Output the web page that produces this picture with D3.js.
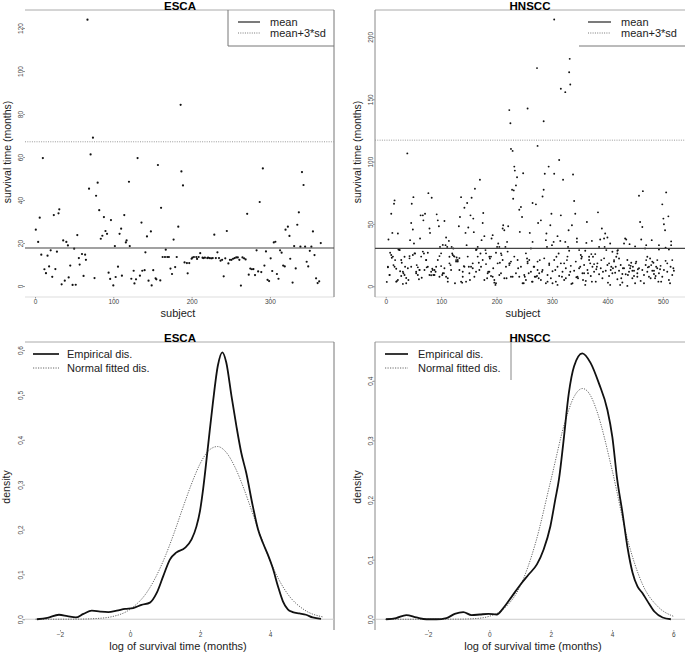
<!DOCTYPE html>
<html>
<head>
<meta charset="utf-8">
<script src="https://cdn.jsdelivr.net/npm/d3@7"></script>
<style>
body { margin: 0; background: #fff; }
svg { font-family: "Liberation Sans", Arial, sans-serif; }
.tick text { font-size: 6.5px; fill: #444; }
.tick line { stroke: #999; }
</style>
</head>
<body>
<script>
// ESCA scatter: [subject, survival months]
const escaPoints = [[1,26.2],[4,20.5],[6,31.8],[8,14.6],[10,59.5],[12,7.8],[14,6],[16,14.1],[18,9.1],[20,16.6],[22,4.3],[24,33],[26,7.9],[28,16],[30,33.8],[31,35.7],[34,0.8],[36,21.2],[38,2.5],[40,20.5],[42,18.9],[43,4],[45,9.5],[48,0.5],[50,17.4],[52,0.6],[54,23.7],[56,13],[57,10],[60,14.9],[62,4.7],[64,14.6],[65,12.2],[67,123.9],[69,45.3],[71,61.2],[74,69],[76,3.7],[78,42],[80,48.1],[82,35.3],[84,22],[86,23.4],[88,32.1],[90,25.6],[92,24.3],[94,6.2],[96,3.3],[97,30.7],[100,0.3],[102,18.6],[103,4.2],[106,9],[108,24.3],[110,26.7],[111,4.8],[114,33],[116,20.3],[117,21.2],[120,48.5],[121,18.6],[123,3.4],[126,7.1],[127,1.2],[129,3.1],[131,59.5],[134,4.8],[136,29.5],[137,7.1],[140,7.4],[141,15.7],[143,23.1],[145,2.5],[148,25.4],[149,0.3],[151,7.4],[154,3.6],[155,3.1],[157,56.3],[160,2.6],[161,36.4],[163,13.5],[166,13.5],[167,16.9],[169,13.5],[171,13.5],[173,8.1],[175,5.6],[177,21.6],[179,8.8],[181,13.5],[183,27.6],[186,84.3],[187,53.3],[189,46.8],[191,11],[194,10.7],[195,5.9],[197,10.7],[200,12.7],
  [201,13.2],[203,13.5],[206,13.5],[207,12.6],[209,13.5],[211,15.3],[214,13.2],[215,13],[217,13.2],[220,13],[221,13.2],[223,13],[225,12.9],[227,13],[229,23.9],[231,13],[233,15.7],[235,13],[237,11.8],[239,12.2],[241,4.5],[243,12.9],[245,25.6],[247,10.5],[249,12.2],[251,12.2],[253,12.7],[255,13],[257,13.3],[259,13.3],[261,12.2],[263,0.2],[265,13.3],[267,12.9],[269,12.4],[271,33.6],[273,5.3],[275,8.1],[277,7.8],[279,7.9],[281,5.1],[283,16.6],[285,6.8],[287,39.1],[289,6.5],[291,54.7],[293,9.5],[295,16.1],[297,2.9],[299,2.3],[301,12.9],[303,7],[305,20.3],[307,20.6],[309,5.6],[311,3.4],[313,16.6],[315,15.5],[317,9.5],[319,9.1],[320,26.2],[323,27.6],[325,23.3],[326,12.7],[329,1.6],[331,18.6],[333,8.2],[335,28.5],[337,34.3],[339,18.3],[341,53],[343,47],[345,18.3],[347,11.3],[349,9.1],[351,16.4],[353,18.3],[355,25.4],[357,14.4],[359,3.6],[361,1.4],[363,2.2],[365,20]];
const escaMean = 17.7, escaCut = 67.1;

// HNSCC scatter: [subject, survival months]
const hnsccPoints = [[2,3.5],[4,15.2],[5,37.5],[7,9],[8,26.9],[10,58.2],[11,22.9],[12,42.8],[14,17],[15,66.2],[16,68.9],[17,21],[19,14.1],[20,4],[22,42.3],[23,29.5],[25,29],[26,12],[28,8.2],[29,18.9],[31,1.9],[32,10.4],[34,23.7],[35,15.7],[37,6.6],[39,106.6],[41,5],[43,24.2],[44,37],[46,50.8],[47,66.2],[49,45.5],[50,71.5],[51,34.3],[53,26.3],[55,11.7],[56,17],[58,15.2],[60,5.6],[61,13],[62,38.3],[63,56.9],[65,6.9],[67,56.9],[68,52.9],[69,26.3],[71,58.2],[73,21],[74,15.2],[76,26.9],[77,74.7],[79,46.3],[80,42.8],[82,8.8],[83,71],[84,14.1],[86,9],[88,13],[90,11.7],[92,57.7],[94,52.9],[96,48.1],[97,24.2],[98,31.6],[100,16.2],[102,9],[103,33.2],[105,10.4],[106,52.4],[108,33],[109,39.1],[111,31.6],[112,6.4],[114,36.4],[115,23.7],[117,17],[119,31.6],[120,26.3],[122,30.3],[123,24.2],[125,2.4],[127,21],[128,23.1],[130,19.9],[132,48.1],[133,22.6],[134,55.6],[136,71.5],[138,2.9],[139,11.7],[141,16.2],[142,63],[144,42.8],[146,33],[147,66.8],[149,47.1],[150,15.7],[152,5],[153,56.9],[155,71],[157,14.4],[158,54.3],[159,43.4],[161,78.2],[163,11.7],[164,29.5],[166,31.6],[168,18.9],[170,85.4],[171,26.3],[173,37],[175,50.8],[176,58.8],[178,40.2],[180,29],[181,17.8],[183,6.4],[185,11.7],[187,23.7],[188,22.3],[190,8.2],[191,38.3],[193,41],[194,14.4],[196,2.9],[198,1.1],[199,26.9],[201,31.6],[203,34.3],[205,31.6],[206,18.9],[208,10.4],[209,25],[211,46.3],[212,48.9],[214,44.9],[216,31.6],[218,6.4],[219,35.6],[221,48.1],[223,17],[224,18.4],[226,7.7],[228,77.4],[230,70.2],[231,76.9],[232,96],[233,92.8],[235,80.9],[237,87.5],[239,14.4],[241,61.4],[242,43.6],[244,63.6],[246,55.6],[248,90.7],[249,2.4],[251,7.7],[253,5],[255,22.3],[256,19.7],[258,10.4],[260,42.8],[262,30.3],[264,3.7],[265,66.8],[267,15.7],[269,7.7],[271,65.7],[273,8.2],[274,13],[276,6.4],[278,21],[280,52.9],[282,11.7],[283,72],[285,77.4],[287,90.2],[289,37],[291,31.6],[292,3.7],[294,96],[295,18.4],[297,48.9],[299,58.2],[301,2.4],[303,35.6],[304,90.2],[306,13],[308,23.7],[310,1.1],[312,26.3],[313,101.3],[315,36.4],[316,56.9],[318,7.7],[320,85.4],[322,18.4],[324,35.6],[325,6.4],[327,21],[329,31.6],[331,28.5],[333,11.7],[335,1.9],[336,48.9],[338,89.6],[340,68.4],[342,58.2],[344,7.2],[345,35.6],[347,6.4],[349,29],[351,15.7],[353,22.3],[354,23.7],[356,5],[358,10.4],[360,1.1],[362,34.8],[363,51.6],[365,10.4],[367,23.7],[369,18.4],[371,25.8],[372,3.7],[374,23.7],[376,17.8],[378,25.8],[380,13.6],[381,15.7],[383,59.3],[385,31.6],[387,37.5],[389,21],[390,46.3],[392,11.7],[394,38.3],[396,42.3],[398,29],[400,39.1],[401,2.9],[403,18.4],[405,1.1],[407,15.7],[409,27.7],[410,14.4],[412,21],[414,10.9],[416,23.7],[418,26.3],[419,29],[421,22.3],[423,1.1],[425,6.4],[427,9.8],[428,14.4],[430,34.3],[432,38.3],[434,37.5],[436,0.3],[437,9],[439,17],[441,14.4],[443,18.9],[445,12.5],[446,15.7],[448,8.2],[450,2.4],[452,19.7],[454,7.7],[455,13.6],[457,72.6],[459,51.6],[461,37.5],[463,47.6],[464,76.3],[466,2.4],[468,30.3],[470,21],[472,23.7],[473,15.2],[475,7.7],[477,22.3],[479,17],[481,12.5],[483,18.9],[484,9.8],[486,6.4],[488,15.7],[490,21],[492,3.7],[493,33],[495,13.6],[497,3.7],[499,65.7],[501,54.3],[502,49.7],[504,44.9],[506,75.3],[508,18.4],[510,56.1],[511,29.5],[513,2.4],[515,33],[517,21],[519,14.4],
  [304,214],[332,182.4],[331,171.7],[333,161.9],[316,158.4],[324,155.7],[273,175],[256,142.6],[223,141.3],[225,130.8],[285,132.4],[274,112.6],[226,110.2],[229,108.6],
  [4,15.7],[7,9],[10,25.1],[13,23.8],[16,15.7],[19,3.7],[22,5],[25,29.1],[28,21.1],[31,11.7],[34,9],[37,2.4],[40,14.4],[43,22.4],[46,15.7],[49,25.1],[52,26.4],[55,10.4],[58,9],[61,13.1],[64,23.8],[67,27.8],[70,13.1],[73,21.1],[76,15.7],[79,9],[82,11.7],[85,13.1],[88,9],[91,15.7],[94,21.1],[97,7.7],[100,26.4],[103,10.4],[106,14.4],[109,7.7],[112,3.7],[115,18.4],[118,13.1],[121,25.1],[124,23.8],[127,19.8],[130,21.1],[133,13.1],[136,3.7],[139,7.7],[142,15.7],[145,3.7],[148,23.8],[151,10.4],[154,15.7],[157,18.4],[160,7.7],[163,29.1],[166,23.8],[169,13.1],[172,15.7],[175,21.1],[178,5],[181,26.4],[184,10.4],[187,11.7],[190,23.8],[193,7.7],[196,5],[199,2.4],[202,18.4],[205,9],[208,26.4],[211,21.1],[214,6.4],[217,15.7],[220,27.8],[223,18.4],[226,19.8],[229,7.7],[232,23.8],[235,10.4],[238,21.1],[241,7.7],[244,15.7],[247,2.4],[250,9],[253,26.4],[256,18.4],[259,21.1],
  [262,11.7],[265,3.7],[268,15.7],[271,7.7],[274,19.8],[277,10.4],[280,5],[283,13.1],[286,22.4],[289,2.4],[292,9],[295,17.1],[298,6.4],[301,12.1],[304,21.1],[307,3.7],[310,15.7],[313,8.2],[316,18.4],[319,11.7],[322,5],[325,14.4],[328,23.8],[331,9],[334,16.4],[337,2.4],[340,12.5],[343,19.8],[346,7.7],[349,14.4],[352,25.1],[355,10.4],[358,17.1],[361,4.3],[364,13.1],[367,21.1],[370,8.2],[373,15.7],[376,11.7],[379,3.7],[382,18.4],[385,9.6],[388,14.4],[391,6.4],[394,22.4],[397,12.5],[400,17.1],[403,8.2],[406,13.1],[409,10.4],[412,19.8],[415,15.7],[418,5.6],[421,12.5],[424,17.1],[427,3],[430,14.4],[433,9.6],[436,21.1],[439,11.7],[442,16.4],[445,6.4],[448,12.5],[451,18.4],[454,10.4],[457,14.4],[460,4.3],[463,13.1],[466,9],[469,17.1],[472,11.7],[475,15.7],[478,6.4],[481,19.8],[484,12.5],[487,8.2],[490,14.4],[493,10.4],[496,16.4],[499,7.7],[502,13.1],[505,20.4],[508,11.7],[511,5],[514,15.7],[517,9],[520,12.5],
  [265,35.6],[275,50.8],[290,42.3],[300,33],[310,40.2],[330,44.9],[345,38.3],[360,28.5],[372,36.4],[395,31.6],[405,34.3],[418,28.5],[440,33.8],[450,32],[470,33],[480,37],[493,29.5],[505,31],[515,36]];
const hnsccMean = 30.4, hnsccCut = 117.2;

// density curves, log of survival time
const escaEmpX = [-2.66,-2.36,-2.03,-1.79,-1.55,-1.33,-1.09,-0.85,-0.62,-0.38,-0.14,0.09,0.33,0.57,0.76,0.95,1.14,1.33,1.57,1.76,1.9,2.0,2.09,2.23,2.37,2.51,2.64,2.75,2.9,3.04,3.18,3.32,3.51,3.66,3.8,3.94,4.08,4.23,4.37,4.51,4.65,4.84,5.03,5.22,5.46];
const escaEmpY = [0,0.003,0.01,0.007,0.004,0.012,0.019,0.017,0.016,0.019,0.023,0.025,0.032,0.037,0.058,0.096,0.133,0.149,0.159,0.178,0.207,0.241,0.29,0.386,0.483,0.565,0.595,0.573,0.498,0.431,0.371,0.327,0.252,0.2,0.17,0.144,0.114,0.073,0.04,0.022,0.016,0.013,0.01,0.004,0.001];
const escaNormX = [-2.7,-1.5,-1.0,-0.5,0,0.5,0.75,1.0,1.25,1.5,1.75,2.0,2.25,2.5,2.75,3.0,3.25,3.5,3.75,4.0,4.25,4.5,5.0,5.5];
const escaNormY = [0,0.0002,0.0014,0.006,0.022,0.062,0.096,0.139,0.19,0.246,0.3,0.346,0.376,0.385,0.372,0.339,0.292,0.237,0.182,0.131,0.089,0.057,0.02,0.0054];

const hnsccEmpX = [-3.37,-3.04,-2.71,-2.38,-2.05,-1.73,-1.4,-1.13,-0.85,-0.58,-0.31,-0.03,0.24,0.46,0.73,1.01,1.28,1.55,1.77,1.99,2.15,2.27,2.41,2.59,2.76,3.03,3.3,3.57,3.85,4.01,4.17,4.34,4.5,4.67,4.83,4.99,5.16,5.38,5.65,5.92];
const hnsccEmpY = [0,0.002,0.007,0.003,0,0,0.002,0.009,0.012,0.007,0.008,0.009,0.008,0.019,0.038,0.058,0.075,0.092,0.117,0.156,0.201,0.235,0.295,0.379,0.424,0.446,0.43,0.396,0.351,0.306,0.234,0.179,0.122,0.078,0.055,0.044,0.03,0.013,0.003,0];
const hnsccNormX = [-3.4,-1.0,-0.5,0,0.5,1.0,1.5,2.0,2.5,2.75,3.04,3.3,3.5,4.0,4.5,5.0,5.5,6.0];
const hnsccNormY = [0,0.0002,0.001,0.005,0.019,0.055,0.127,0.232,0.337,0.372,0.387,0.375,0.35,0.251,0.135,0.058,0.021,0.005];

const scatterLegend = ["mean", "mean+3*sd"];
const densityLegend = ["Empirical dis.", "Normal fitted dis."];

let svg = d3.select("body").append("svg")
    .attr("width", 685)
    .attr("height", 654);

let hline = (x1, x2, y, col, w, dash) => svg.append("line")
    .attr("x1", x1).attr("x2", x2).attr("y1", y).attr("y2", y)
    .attr("stroke", col).attr("stroke-width", w || 1)
    .attr("stroke-dasharray", dash || null);
let vline = (x, y1, y2, col, w) => svg.append("line")
    .attr("x1", x).attr("x2", x).attr("y1", y1).attr("y2", y2)
    .attr("stroke", col).attr("stroke-width", w || 1);

let drawAxes = (box, x, y, xt, yt, yfmt, title, xlab, ylab) => {
    let xa = svg.append("g")
        .attr("transform", "translate(0," + box.b + ")")
        .call(d3.axisBottom(x).tickValues(xt).tickSize(1.5).tickPadding(0.5));
    xa.select(".domain").remove();

    let ya = svg.append("g")
        .attr("transform", "translate(" + box.l + ",0)")
        .call(d3.axisLeft(y).tickValues(yt).tickSize(2).tickFormat(yfmt));
    ya.select(".domain").remove();
    ya.selectAll("text")
        .attr("transform", "rotate(-90)")
        .attr("x", 0).attr("y", -2.5).attr("dy", 0)
        .style("text-anchor", "middle");

    svg.append("text")
        .attr("x", box.tx).attr("y", box.t - 0.3)
        .attr("text-anchor", "middle")
        .style("font-size", "11.5px").style("font-weight", "bold")
        .text(title);
    svg.append("text")
        .attr("x", box.xlx).attr("y", box.xly)
        .attr("text-anchor", "middle")
        .style("font-size", "11px").style("fill", "#222")
        .text(xlab);
    svg.append("text")
        .attr("transform", "translate(" + box.ylx + "," + box.yly + ") rotate(-90)")
        .attr("text-anchor", "middle")
        .style("font-size", "10.5px").style("fill", "#222")
        .text(ylab);
};

let drawLegend = (x0, ys, labels, styles) => {
    labels.map((lab, i) => {
        hline(x0, x0 + styles[i].len, ys[i], styles[i].col, styles[i].w, styles[i].dash);
        svg.append("text")
            .attr("x", x0 + styles[i].len + styles[i].gap)
            .attr("y", ys[i] + 4)
            .style("font-size", "11px").style("fill", "#222")
            .text(lab);
    });
};

// ---------- top left: ESCA scatter ----------
let A = {l: 25, r: 334, t: 10, b: 297, tx: 180, xlx: 178, xly: 317, ylx: 10.5, yly: 152};
let ax = d3.scaleLinear().domain([-12.8, 381.9]).range([A.l, A.r]);
let ay = d3.scaleLinear().domain([-5.1, 128.4]).range([A.b, A.t]);
hline(A.l, A.r, A.t, "#aaa");
hline(A.l, A.r, A.b, "#ddd");
vline(A.r, A.t, A.b, "#777");
drawAxes(A, ax, ay, [0, 100, 200, 300], [0, 20, 40, 60, 80, 100, 120], d3.format("d"),
    "ESCA", "subject", "survival time (months)");
svg.append("g").selectAll("circle")
    .data(escaPoints)
    .join("circle")
    .attr("cx", d => ax(d[0]))
    .attr("cy", d => ay(d[1]))
    .attr("r", 1.1)
    .attr("fill", "#111");
hline(A.l, A.r, ay(escaMean), "#444", 1.1);
hline(A.l, A.r, ay(escaCut), "#999", 1, "1,1.3");
vline(228, A.t, 46, "#777");
hline(228, A.r, 46, "#777");
drawLegend(238, [22, 33], scatterLegend, [
    {len: 22, gap: 10, col: "#333", w: 1.3},
    {len: 22, gap: 10, col: "#777", w: 1, dash: "1,1.3"}]);

// ---------- top right: HNSCC scatter ----------
let B = {l: 375, r: 685, t: 10, b: 297, tx: 530, xlx: 523, xly: 317, ylx: 360.5, yly: 152};
let bx = d3.scaleLinear().domain([-19.3, 540]).range([B.l, B.r]);
let by = d3.scaleLinear().domain([-8.6, 221.6]).range([B.b, B.t]);
hline(B.l, B.r, B.t, "#aaa");
hline(B.l, B.r, B.b, "#ddd");
vline(B.l, B.t, B.b, "#888");
drawAxes(B, bx, by, [0, 100, 200, 300, 400, 500], [0, 50, 100, 150, 200], d3.format("d"),
    "HNSCC", "subject", "survival time (months)");
svg.append("g").selectAll("circle")
    .data(hnsccPoints)
    .join("circle")
    .attr("cx", d => bx(d[0]))
    .attr("cy", d => by(d[1]))
    .attr("r", 0.95)
    .attr("fill", "#111");
hline(B.l, B.r, by(hnsccMean), "#444", 1.1);
hline(B.l, B.r, by(hnsccCut), "#999", 1, "1,1.3");
hline(579, B.r, 46, "#777");
drawLegend(588, [22, 33], scatterLegend, [
    {len: 23, gap: 10, col: "#333", w: 1.3},
    {len: 23, gap: 10, col: "#777", w: 1, dash: "1,1.3"}]);

// ---------- density panels ----------
let drawDensity = (box, x, y, empX, empY, normX, normY) => {
    let line = d3.line()
        .x(d => x(d[0]))
        .y(d => y(d[1]))
        .curve(d3.curveMonotoneX);
    hline(box.l, box.r, y(0), "#ccc");
    svg.append("path")
        .datum(normX.map((v, i) => [v, normY[i]]))
        .attr("d", line)
        .attr("fill", "none")
        .attr("stroke", "#666")
        .attr("stroke-width", 1)
        .attr("stroke-dasharray", "1.2,1.3");
    svg.append("path")
        .datum(empX.map((v, i) => [v, empY[i]]))
        .attr("d", line)
        .attr("fill", "none")
        .attr("stroke", "#111")
        .attr("stroke-width", 1.8);
};

let C = {l: 25, r: 334, t: 342, b: 630, tx: 180, xlx: 178, xly: 650, ylx: 10, yly: 487};
let cx = d3.scaleLinear().domain([-3.0, 5.83]).range([C.l, C.r]);
let cy = d3.scaleLinear().domain([-0.024, 0.618]).range([C.b, C.t]);
hline(C.l, C.r, C.t, "#aaa");
vline(C.r, C.t, C.b, "#777");
drawAxes(C, cx, cy, [-2, 0, 2, 4], [0, 0.1, 0.2, 0.3, 0.4, 0.5, 0.6], d3.format(".1f"),
    "ESCA", "log of survival time (months)", "density");
drawDensity(C, cx, cy, escaEmpX, escaEmpY, escaNormX, escaNormY);
drawLegend(33, [354, 368], densityLegend, [
    {len: 26, gap: 8, col: "#222", w: 1.8},
    {len: 26, gap: 8, col: "#666", w: 1, dash: "1.2,1.3"}]);

let D = {l: 375, r: 685, t: 342, b: 630, tx: 530, xlx: 533, xly: 650, ylx: 361, yly: 487};
let dx = d3.scaleLinear().domain([-3.73, 6.38]).range([D.l, D.r]);
let dy = d3.scaleLinear().domain([-0.018, 0.465]).range([D.b, D.t]);
hline(D.l, D.r, D.t, "#aaa");
vline(D.l, D.t, D.b, "#888");
vline(511, D.t, 380, "#888");
drawAxes(D, dx, dy, [-2, 0, 2, 4, 6], [0, 0.1, 0.2, 0.3, 0.4], d3.format(".1f"),
    "HNSCC", "log of survival time (months)", "density");
drawDensity(D, dx, dy, hnsccEmpX, hnsccEmpY, hnsccNormX, hnsccNormY);
drawLegend(385, [354, 368], densityLegend, [
    {len: 23, gap: 10, col: "#222", w: 1.8},
    {len: 23, gap: 10, col: "#666", w: 1, dash: "1.2,1.3"}]);
</script>
</body>
</html>
